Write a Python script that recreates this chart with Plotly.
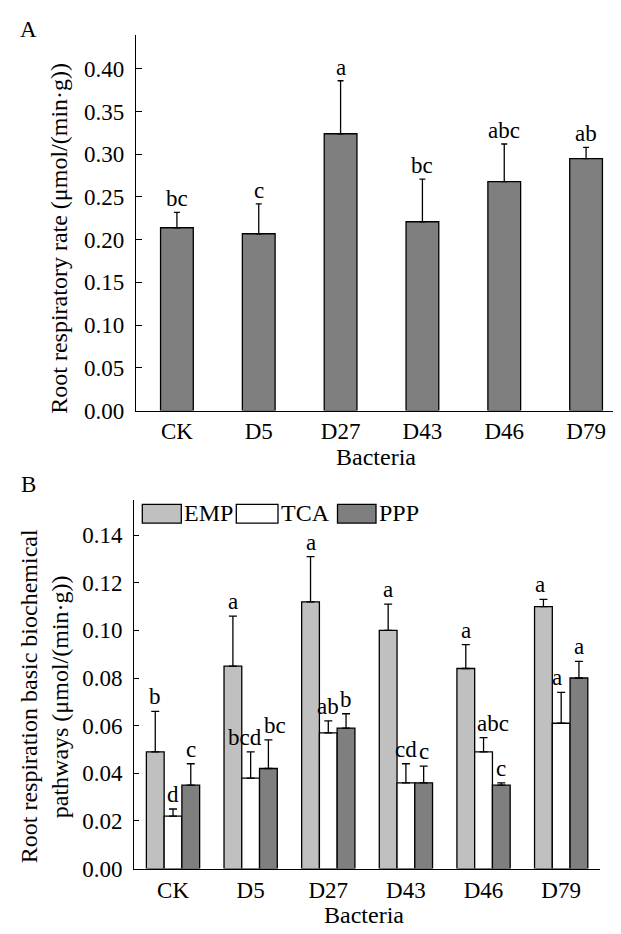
import plotly.graph_objects as go

# ---------------- data ----------------
categories = ["CK", "D5", "D27", "D43", "D46", "D79"]

# Panel A: root respiratory rate
rate_mean = [0.214, 0.207, 0.324, 0.221, 0.268, 0.295]
rate_err_top = [0.232, 0.242, 0.386, 0.271, 0.312, 0.308]
rate_letters = ["bc", "c", "a", "bc", "abc", "ab"]

# Panel B: pathways
series_names = ["EMP", "TCA", "PPP"]
emp_mean = [0.049, 0.085, 0.112, 0.100, 0.084, 0.110]
emp_err_top = [0.066, 0.106, 0.131, 0.111, 0.094, 0.113]
tca_mean = [0.022, 0.038, 0.057, 0.036, 0.049, 0.061]
tca_err_top = [0.025, 0.049, 0.062, 0.044, 0.055, 0.074]
ppp_mean = [0.035, 0.042, 0.059, 0.036, 0.035, 0.080]
ppp_err_top = [0.044, 0.054, 0.065, 0.043, 0.036, 0.087]
emp_letters = ["b", "a", "a", "a", "a", "a"]
tca_letters = ["d", "bcd", "ab", "cd", "abc", "a"]
ppp_letters = ["c", "bc", "b", "c", "c", "a"]

yticks_a = [0.00, 0.05, 0.10, 0.15, 0.20, 0.25, 0.30, 0.35, 0.40]
yticks_b = [0.00, 0.02, 0.04, 0.06, 0.08, 0.10, 0.12, 0.14]

# ---------------- style / layout ----------------
W, H = 621, 934
FONT = "Liberation Serif, Times New Roman, serif"
FS = 23
DARK = "#7f7f7f"
LIGHT = "#c0c0c0"
WHITE = "#ffffff"
fills = [LIGHT, WHITE, DARK]

# letter x nudges in px (label collision avoidance as in reference)
letter_nudge = {("TCA", 1): -6, ("PPP", 1): 7, ("TCA", 4): 9, ("TCA", 5): -4, ("EMP", 5): -3}


def px_x(x):
    return x / W


def px_y(y):
    return 1 - y / H


fig = go.Figure()

# Panel A
fig.add_trace(go.Bar(
    x=categories, y=rate_mean, xaxis="x", yaxis="y",
    width=0.4, offset=-0.2,
    marker=dict(color=DARK, line=dict(color="black", width=1.3)),
    error_y=dict(type="data", symmetric=False,
                 array=[t - m for t, m in zip(rate_err_top, rate_mean)],
                 arrayminus=[0] * len(rate_mean),
                 color="black", thickness=1.3, width=3),
    showlegend=False,
))

# Panel B
bw = 0.2287
means_b = [emp_mean, tca_mean, ppp_mean]
tops_b = [emp_err_top, tca_err_top, ppp_err_top]
letters_b = [emp_letters, tca_letters, ppp_letters]
for i, name in enumerate(series_names):
    fig.add_trace(go.Bar(
        x=categories, y=means_b[i], xaxis="x2", yaxis="y2", name=name,
        width=bw, offset=-1.5 * bw + i * bw,
        marker=dict(color=fills[i], line=dict(color="black", width=1.3)),
        error_y=dict(type="data", symmetric=False,
                     array=[t - m for t, m in zip(tops_b[i], means_b[i])],
                     arrayminus=[0] * len(means_b[i]),
                     color="black", thickness=1.3, width=4),
        showlegend=False,
    ))

annotations = []
# letters panel A
for j, (lab, top) in enumerate(zip(rate_letters, rate_err_top)):
    annotations.append(dict(x=j, y=top, xref="x", yref="y", text=lab, showarrow=False,
                            yanchor="bottom", yshift=-1,
                            font=dict(family=FONT, size=FS, color="black")))
# letters panel B
for i, name in enumerate(series_names):
    for j in range(len(categories)):
        annotations.append(dict(x=j + (i - 1) * bw, y=tops_b[i][j], xref="x2", yref="y2",
                                text=letters_b[i][j], showarrow=False,
                                yanchor="bottom", yshift=0,
                                xshift=letter_nudge.get((name, j), 0),
                                font=dict(family=FONT, size=FS, color="black")))

# panel labels
annotations.append(dict(x=px_x(20), y=px_y(22), xref="paper", yref="paper", text="A",
                        showarrow=False, xanchor="center", yanchor="middle",
                        font=dict(family=FONT, size=FS, color="black")))
annotations.append(dict(x=px_x(20), y=px_y(483), xref="paper", yref="paper", text="B",
                        showarrow=False, xanchor="center", yanchor="middle",
                        font=dict(family=FONT, size=FS, color="black")))
# axis titles
annotations.append(dict(x=px_x(51), y=px_y(234), xref="paper", yref="paper",
                        text="Root respiratory rate (μmol/(min·g))", textangle=-90,
                        showarrow=False, xanchor="center", yanchor="middle",
                        font=dict(family=FONT, size=24, color="black")))
annotations.append(dict(x=px_x(368), y=px_y(455), xref="paper", yref="paper",
                        text="Bacteria", showarrow=False, xanchor="center", yanchor="middle",
                        font=dict(family=FONT, size=24, color="black")))
annotations.append(dict(x=px_x(21), y=px_y(698), xref="paper", yref="paper",
                        text="Root respiration basic biochemical", textangle=-90,
                        showarrow=False, xanchor="center", yanchor="middle",
                        font=dict(family=FONT, size=24, color="black")))
annotations.append(dict(x=px_x(52), y=px_y(699), xref="paper", yref="paper",
                        text="pathways (μmol/(min·g))", textangle=-90,
                        showarrow=False, xanchor="center", yanchor="middle",
                        font=dict(family=FONT, size=24, color="black")))
annotations.append(dict(x=px_x(356), y=px_y(920), xref="paper", yref="paper",
                        text="Bacteria", showarrow=False, xanchor="center", yanchor="middle",
                        font=dict(family=FONT, size=24, color="black")))

# manual legend for panel B
shapes = []
leg_boxes = [(134.3, 173.3), (228.3, 270.0), (329.5, 368.0)]
for i, name in enumerate(series_names):
    x0, x1 = leg_boxes[i]
    shapes.append(dict(type="rect", xref="paper", yref="paper",
                       x0=px_x(x0), x1=px_x(x1), y0=px_y(522.3), y1=px_y(503.3),
                       fillcolor=fills[i], line=dict(color="black", width=1.3)))
    annotations.append(dict(x=px_x(x1 + 0.5), y=px_y(512), xref="paper", yref="paper",
                            text=name, showarrow=False, xanchor="left", yanchor="middle",
                            font=dict(family=FONT, size=24, color="black")))

axis_common = dict(showline=True, linecolor="black", linewidth=1.3, showgrid=False,
                   zeroline=False, tickfont=dict(family=FONT, size=FS, color="black"))

fig.update_layout(
    width=W, height=H,
    margin=dict(l=0, r=0, t=0, b=0),
    paper_bgcolor="white", plot_bgcolor="white",
    barmode="overlay",
    showlegend=False,
    xaxis=dict(domain=[px_x(128), px_x(619)], range=[-0.5, 5.5], anchor="y",
               type="category", ticks="", ticklabelstandoff=0, **axis_common),
    yaxis=dict(domain=[px_y(408.3), px_y(27)], range=[0, 0.44], anchor="x",
               tickvals=yticks_a, tickformat=".2f", ticks="inside", ticklen=6,
               tickwidth=1.3, tickcolor="black", ticklabelstandoff=6, **axis_common),
    xaxis2=dict(domain=[px_x(126.2), px_x(592)], range=[-0.5, 5.5], anchor="y2",
                type="category", ticks="", ticklabelstandoff=1, **axis_common),
    yaxis2=dict(domain=[px_y(872.7), px_y(499.3)], range=[0, 0.1546], anchor="x2",
                tickvals=yticks_b, tickformat=".2f", ticks="inside", ticklen=5,
                tickwidth=1.3, tickcolor="black", ticklabelstandoff=6, **axis_common),
    annotations=annotations,
    shapes=shapes,
)

fig.write_html("out.html")
